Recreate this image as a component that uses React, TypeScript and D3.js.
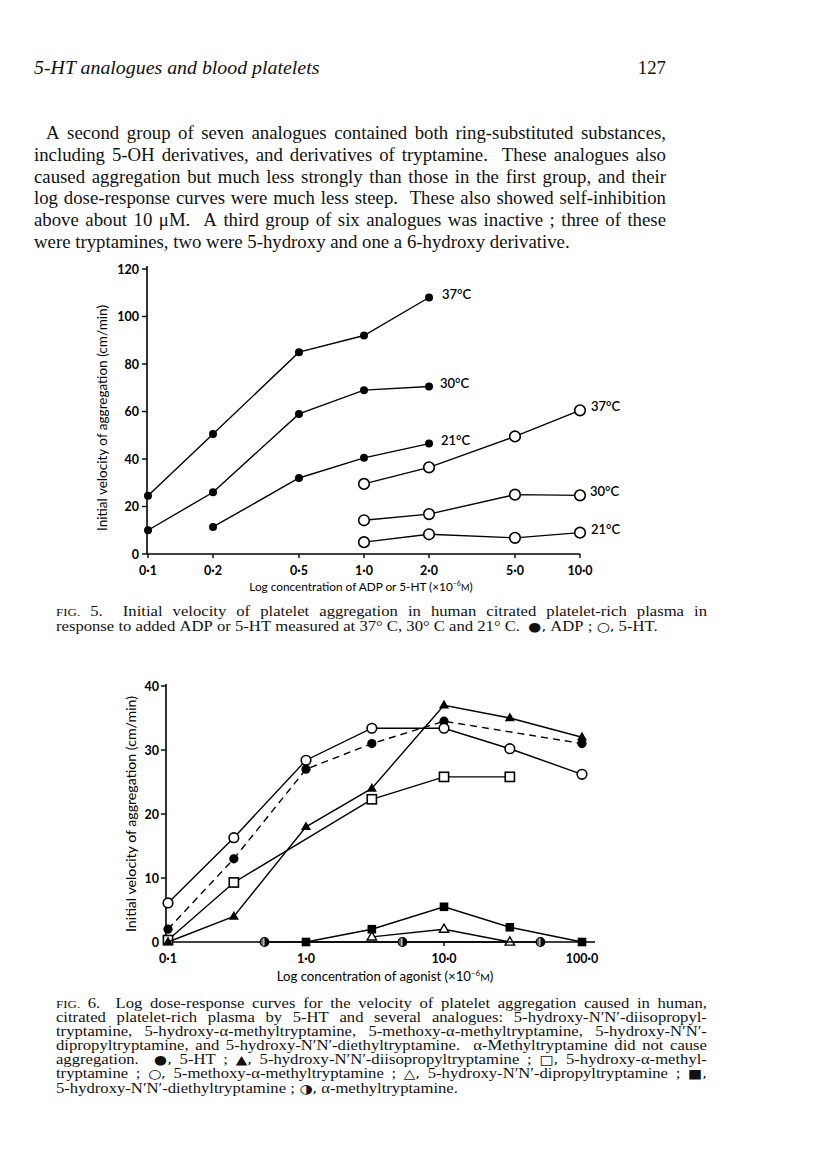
import React from 'react';
import * as d3 from 'd3';

// page text
const headerTitle = '5-HT analogues and blood platelets';
const pageNumber = '127';

const bodyLines = [
  'A second group of seven analogues contained both ring-substituted substances,',
  'including 5-OH derivatives, and derivatives of tryptamine.  These analogues also',
  'caused aggregation but much less strongly than those in the first group, and their',
  'log dose-response curves were much less steep.  These also showed self-inhibition',
  'above about 10 μM.  A third group of six analogues was inactive ; three of these',
  'were tryptamines, two were 5-hydroxy and one a 6-hydroxy derivative.',
];

const fig5Caption = [
  'FIG. 5.  Initial velocity of platelet aggregation in human citrated platelet-rich plasma in',
  'response to added ADP or 5-HT measured at 37° C, 30° C and 21° C.  ●, ADP ; ○, 5-HT.',
];

const fig6Caption = [
  'FIG. 6.  Log dose-response curves for the velocity of platelet aggregation caused in human,',
  'citrated platelet-rich plasma by 5-HT and several analogues: 5-hydroxy-N′N′-diisopropyl-',
  'tryptamine, 5-hydroxy-α-methyltryptamine, 5-methoxy-α-methyltryptamine, 5-hydroxy-N′N′-',
  'dipropyltryptamine, and 5-hydroxy-N′N′-diethyltryptamine.  α-Methyltryptamine did not cause',
  'aggregation.  ●, 5-HT ; ▲, 5-hydroxy-N′N′-diisopropyltryptamine ; □, 5-hydroxy-α-methyl-',
  'tryptamine ; ○, 5-methoxy-α-methyltryptamine ; △, 5-hydroxy-N′N′-dipropyltryptamine ; ■,',
  '5-hydroxy-N′N′-diethyltryptamine ; ◑, α-methyltryptamine.',
];

// fig 5 data
const fig5XTicks = [0.1, 0.2, 0.5, 1, 2, 5, 10];
const fig5XLabels = ['0·1', '0·2', '0·5', '1·0', '2·0', '5·0', '10·0'];
const fig5YTicks = [0, 20, 40, 60, 80, 100, 120];
const adpConc = [0.1, 0.2, 0.5, 1, 2];
const adp37 = [24.5, 50.5, 85, 92, 108];
const adp30 = [10, 26, 59, 69, 70.5];
const adp21Conc = [0.2, 0.5, 1, 2];
const adp21 = [11.4, 32, 40.5, 46.5];
const htConc = [1, 2, 5, 10];
const ht37 = [29.5, 36.5, 49.5, 60.5];
const ht30 = [14.2, 16.8, 25, 24.7];
const ht21 = [5, 8.3, 6.8, 9];

// fig 6 data
const fig6XTicks = [0.1, 1, 10, 100];
const fig6XLabels = ['0·1', '1·0', '10·0', '100·0'];
const fig6YTicks = [0, 10, 20, 30, 40];
const serotoninConc = [0.1, 0.3, 1, 3, 10, 100];
const serotonin = [2, 13, 27, 31, 34.5, 31];
const diisopropylConc = [0.1, 0.3, 1, 3, 10, 30, 100];
const diisopropyl = [0, 4, 18, 24, 37, 35, 32];
const hydroxyMethylConc = [0.1, 0.3, 3, 10, 30];
const hydroxyMethyl = [0.3, 9.3, 22.3, 25.8, 25.8];
const methoxyMethylConc = [0.1, 0.3, 1, 3, 10, 30, 100];
const methoxyMethyl = [6.1, 16.3, 28.4, 33.4, 33.4, 30.2, 26.2];
const dipropylConc = [3, 10, 30];
const dipropyl = [0.8, 2, 0];
const diethylConc = [1, 3, 10, 30, 100];
const diethyl = [0, 2, 5.5, 2.3, 0];
const alphaMethylConc = [0.5, 5, 50];
const alphaMethyl = [0, 0, 0];

const SERIF = 'Liberation Serif';
const SANS = 'Lato';
const SYMBOLS = /[●○▲△□■◑]/;

let ctx: CanvasRenderingContext2D | null = null;
function measure(text: string, font: string) {
  if (!ctx) ctx = document.createElement('canvas').getContext('2d');
  ctx!.font = font;
  return ctx!.measureText(text).width;
}

function fitSize(text: string, width: number, style = '') {
  return (20 * width) / measure(text, `${style} 20px "${SERIF}"`);
}

function wordSetup(words: string[], size: number) {
  const fams = words.map((w) => (SYMBOLS.test(w) ? 'DejaVu Sans' : SERIF));
  const sizes = words.map((w) => (w === 'FIG.' ? size * 0.78 : SYMBOLS.test(w) ? size * 0.9 : size));
  const widths = words.map((w, j) => (w ? measure(w, `${sizes[j]}px "${fams[j]}"`) : 0));
  return { fams, sizes, widths };
}

// justified block: every line but the last spread to the right edge; sx widens the glyphs
function Para({ lines, x0, x1, y0, lh, size, indent = 0, sx = 1 }: any) {
  const a = x0 / sx;
  const b = x1 / sx;
  return (
    <g transform={`scale(${sx},1)`} fontFamily={SERIF} fontSize={size} fill="#111">
      {lines.map((line: string, i: number) => {
        const words = line.split(' ');
        const { fams, sizes, widths } = wordSetup(words, size);
        const left = a + (i === 0 ? indent / sx : 0);
        const total = widths.reduce((p, q) => p + q, 0);
        const last = i === lines.length - 1;
        const gap = last ? measure(' ', `${size}px "${SERIF}"`) : (b - left - total) / (words.length - 1);
        let x = left;
        return (
          <text key={i} y={y0 + i * lh}>
            {words.map((w, j) => {
              const t = (
                <tspan key={j} x={x} fontSize={sizes[j]} fontFamily={fams[j]}>
                  {w}
                </tspan>
              );
              x += widths[j] + gap;
              return t;
            })}
          </text>
        );
      })}
    </g>
  );
}

function Marker({ type, cx, cy, r = 4.5 }: any) {
  const sw = 1.6;
  if (type === 'dot') return <circle cx={cx} cy={cy} r={r} fill="#000" />;
  if (type === 'ring') return <circle cx={cx} cy={cy} r={r} fill="#fff" stroke="#000" strokeWidth={sw} />;
  if (type === 'half')
    return (
      <g>
        <circle cx={cx} cy={cy} r={r} fill="#fff" stroke="#000" strokeWidth={1.2} />
        <path d={`M${cx},${cy - r} A${r},${r} 0 0 1 ${cx},${cy + r} Z`} fill="#000" />
        <path d={`M${cx - 1},${cy - r + 1} A${r - 1},${r - 1} 0 0 0 ${cx - 1},${cy + r - 1} Z`} fill="#000" opacity={0.6} />
      </g>
    );
  if (type === 'sq')
    return <rect x={cx - r} y={cy - r} width={2 * r} height={2 * r} fill="#fff" stroke="#000" strokeWidth={sw} />;
  if (type === 'fsq') return <rect x={cx - r} y={cy - r} width={2 * r} height={2 * r} fill="#000" />;
  const h = r * 1.9;
  const d = `M${cx},${cy - h * 0.62} L${cx + r * 1.1},${cy + h * 0.38} L${cx - r * 1.1},${cy + h * 0.38} Z`;
  if (type === 'tri') return <path d={d} fill="#000" />;
  return <path d={d} fill="#fff" stroke="#000" strokeWidth={1.4} />;
}

function Series({ xs, ys, x, y, type, dash, r }: any) {
  const pts: [number, number][] = xs.map((c: number, i: number) => [c, ys[i]]);
  const line = d3
    .line<[number, number]>()
    .x((d) => x(d[0]))
    .y((d) => y(d[1]));
  return (
    <g>
      <path d={line(pts) || ''} fill="none" stroke="#000" strokeWidth={1.4} strokeDasharray={dash} />
      {pts.map((p, i) => (
        <Marker key={i} type={type} cx={x(p[0])} cy={y(p[1])} r={r} />
      ))}
    </g>
  );
}

function XTitle({ cx, y, size, label }: any) {
  return (
    <text x={cx} y={y} textAnchor="middle" fontFamily={SANS} fontSize={size}>
      {label} (×10
      <tspan dy={-5} fontSize={size * 0.6}>
        –6
      </tspan>
      <tspan dy={5} fontSize={size * 0.78}>
        M
      </tspan>
      )
    </text>
  );
}

function YTitle({ x, cy, width }: any) {
  return (
    <text
      transform={`translate(${x},${cy}) rotate(-90)`}
      textAnchor="middle"
      fontFamily={SANS}
      fontSize={13}
      textLength={width}
      lengthAdjust="spacingAndGlyphs"
    >
      Initial velocity of aggregation (cm/min)
    </text>
  );
}

function Fig5() {
  const x = d3.scaleLog().domain([0.1, 10]).range([148, 580]);
  const y = d3.scaleLinear().domain([0, 120]).range([554, 269]);
  const ax = 147;
  const tag = (c: number, v: number, t: string, dx: number) => (
    <text x={x(c) + dx} y={y(v) + 1} fontFamily={SANS} fontSize={13} fontWeight={600}>
      {t}
    </text>
  );
  return (
    <g>
      <line x1={ax} x2={ax} y1={y(120) - 3} y2={y(0)} stroke="#000" strokeWidth={1.6} />
      <line x1={ax} x2={x(10)} y1={y(0)} y2={y(0)} stroke="#000" strokeWidth={1.6} />
      {fig5YTicks.map((t) => (
        <g key={t}>
          <line x1={ax - 5} x2={ax} y1={y(t)} y2={y(t)} stroke="#000" strokeWidth={1.4} />
          <text x={ax - 8} y={y(t) + 4.5} textAnchor="end" fontFamily={SANS} fontSize={12.5} fontWeight={700}>
            {t}
          </text>
        </g>
      ))}
      {fig5XTicks.map((t, i) => (
        <g key={t}>
          <line x1={x(t)} x2={x(t)} y1={y(0)} y2={y(0) + 4} stroke="#000" strokeWidth={1.4} />
          <text x={x(t)} y={y(0) + 21} textAnchor="middle" fontFamily={SANS} fontSize={12.5} fontWeight={700}>
            {fig5XLabels[i]}
          </text>
        </g>
      ))}
      <Series xs={adpConc} ys={adp37} x={x} y={y} type="dot" r={4} />
      <Series xs={adpConc} ys={adp30} x={x} y={y} type="dot" r={4} />
      <Series xs={adp21Conc} ys={adp21} x={x} y={y} type="dot" r={4} />
      <Series xs={htConc} ys={ht37} x={x} y={y} type="ring" r={5.3} />
      <Series xs={htConc} ys={ht30} x={x} y={y} type="ring" r={5.3} />
      <Series xs={htConc} ys={ht21} x={x} y={y} type="ring" r={5.3} />
      {tag(2, adp37[4], '37°C', 13)}
      {tag(2, adp30[4], '30°C', 11)}
      {tag(2, adp21[3], '21°C', 12)}
      {tag(10, ht37[3], '37°C', 11)}
      {tag(10, ht30[3], '30°C', 10)}
      {tag(10, ht21[3], '21°C', 11)}
      <YTitle x={107} cy={418} width={226} />
      <XTitle cx={361} y={591} size={11.8} label="Log concentration of ADP or 5-HT" />
    </g>
  );
}

function Fig6() {
  const x = d3.scaleLog().domain([0.1, 100]).range([168, 582]);
  const y = d3.scaleLinear().domain([0, 40]).range([942, 686]);
  const ax = 166;
  return (
    <g>
      <line x1={ax} x2={ax} y1={y(40) - 2} y2={y(0)} stroke="#000" strokeWidth={1.6} />
      <line x1={ax} x2={595} y1={y(0)} y2={y(0)} stroke="#000" strokeWidth={1.6} />
      {fig6YTicks.map((t) => (
        <g key={t}>
          {t > 0 && <line x1={ax - 5} x2={ax} y1={y(t)} y2={y(t)} stroke="#000" strokeWidth={1.4} />}
          <text x={ax - 7} y={y(t) + 4.5} textAnchor="end" fontFamily={SANS} fontSize={12.5} fontWeight={700}>
            {t}
          </text>
        </g>
      ))}
      {fig6XTicks.map((t, i) => (
        <g key={t}>
          {t > 0.1 && <line x1={x(t)} x2={x(t)} y1={y(0)} y2={y(0) + 4} stroke="#000" strokeWidth={1.4} />}
          <text x={x(t)} y={y(0) + 21} textAnchor="middle" fontFamily={SANS} fontSize={12.5} fontWeight={700}>
            {fig6XLabels[i]}
          </text>
        </g>
      ))}
      <Series xs={diethylConc} ys={diethyl} x={x} y={y} type="fsq" r={4.3} />
      <Series xs={dipropylConc} ys={dipropyl} x={x} y={y} type="otri" r={4.3} />
      <Series xs={alphaMethylConc} ys={alphaMethyl} x={x} y={y} type="half" r={4.3} />
      <Series xs={hydroxyMethylConc} ys={hydroxyMethyl} x={x} y={y} type="sq" r={4.6} />
      <Series xs={diisopropylConc} ys={diisopropyl} x={x} y={y} type="tri" r={4.6} />
      <Series xs={serotoninConc} ys={serotonin} x={x} y={y} type="dot" dash="7,5" r={4.6} />
      <Series xs={methoxyMethylConc} ys={methoxyMethyl} x={x} y={y} type="ring" r={4.8} />
      <YTitle x={136} cy={814} width={236} />
      <XTitle cx={385} y={981} size={13.2} label="Log concentration of agonist" />
    </g>
  );
}

export default function App() {
  const bodyLeft = 34;
  const bodyRight = 666;
  const capLeft = 56;
  const capRight = 707;
  const bodySize = fitSize(bodyLines[5], 536);
  const capSize = 14;
  const headSize = fitSize(headerTitle, 286, 'italic');
  // widen caption glyphs so the last caption line runs to its printed length
  const lastWords = fig6Caption[6].split(' ');
  const lw = wordSetup(lastWords, capSize).widths.reduce((p, q) => p + q, 0) + (lastWords.length - 1) * measure(' ', `${capSize}px "${SERIF}"`);
  const capSx = 402 / lw;
  return (
    <svg width={816} height={1156} viewBox="0 0 816 1156" style={{ position: 'absolute', left: 0, top: 0, background: '#fff' }}>
      <rect width={816} height={1156} fill="#fff" />
      <text x={bodyLeft} y={74} fontFamily={SERIF} fontStyle="italic" fontSize={headSize} fill="#111">
        {headerTitle}
      </text>
      <text x={bodyRight} y={74} textAnchor="end" fontFamily={SERIF} fontSize={bodySize} fill="#111">
        {pageNumber}
      </text>
      <Para lines={bodyLines} x0={bodyLeft} x1={bodyRight} y0={139} lh={21.8} size={bodySize} indent={12} />
      <Fig5 />
      <Para lines={fig5Caption} x0={capLeft} x1={capRight} y0={616} lh={15} size={capSize} sx={capSx} />
      <Fig6 />
      <Para lines={fig6Caption} x0={capLeft} x1={capRight} y0={1008} lh={14.1} size={capSize} sx={capSx} />
    </svg>
  );
}
